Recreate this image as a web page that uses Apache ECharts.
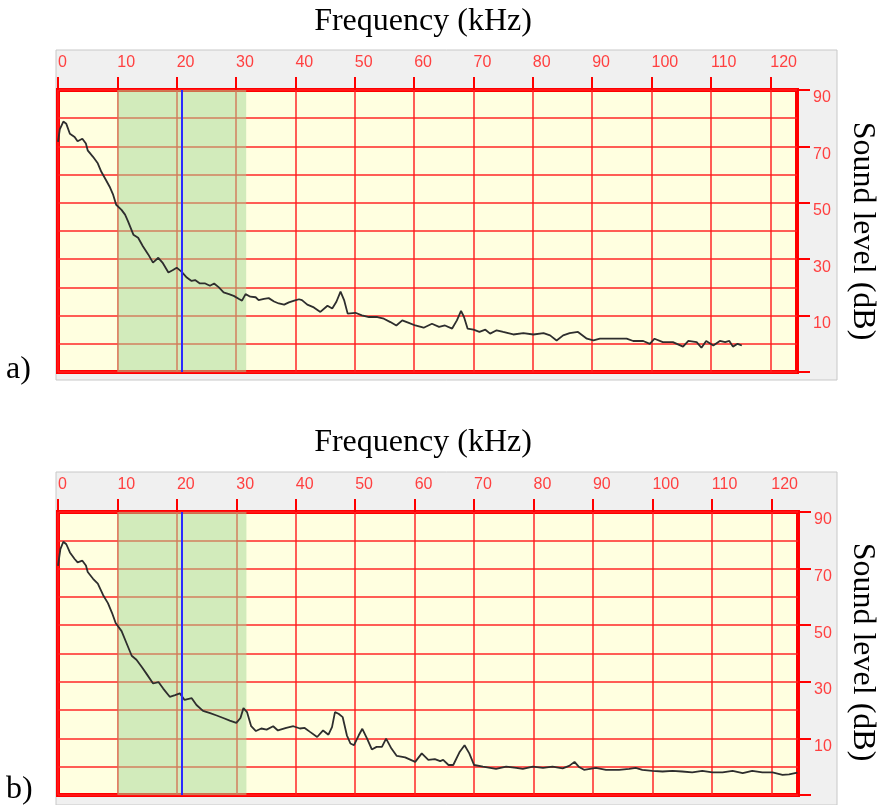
<!DOCTYPE html>
<html>
<head>
<meta charset="utf-8">
<script src="https://cdn.jsdelivr.net/npm/echarts@6/dist/echarts.min.js"></script>
<style>
html,body{margin:0;padding:0;background:#fff;}
#c{width:879px;height:805px;}
</style>
</head>
<body>
<div id="c"></div>
<script>
// ---- data ----
const freqTicks = [0,10,20,30,40,50,60,70,80,90,100,110,120];
const levelTickLabels = [10,30,50,70,90];
const levelTicks = [-10,10,30,50,70,90];
const bandRange = [10, 31.7];
const cursorFreq = 20.9;

const freqA = [0,0.3,0.9,1.4,2.0,2.8,3.3,4.1,4.7,5.0,5.9,6.7,7.3,8.1,8.7,9.3,9.8,10.7,11.3,11.8,12.7,13.5,14.3,15.2,16.0,16.9,17.6,18.6,19.3,20.0,20.8,21.7,22.5,23.1,23.9,24.8,25.6,26.3,27.1,27.9,28.8,29.6,30.5,31.0,31.6,32.4,33.3,33.8,34.7,35.5,36.4,37.2,38.1,38.9,39.8,40.6,41.1,42.0,43.1,44.2,45.4,46.2,46.9,47.6,48.2,48.8,50.1,51.2,52.4,53.8,54.9,56.0,57.0,58.0,59.1,60.2,61.6,63.0,64.2,65.2,66.4,67.2,67.9,68.4,69.0,70.0,71.0,72.0,72.8,73.9,75.0,76.7,78.4,80.1,81.8,82.9,84.0,85.1,86.2,87.6,89.1,90.2,91.3,92.7,94.1,95.8,96.9,98.6,99.7,100.5,101.9,103.6,105.3,106.2,107.6,108.4,109.2,110.4,111.5,112.4,113.1,113.7,114.5,115.2];
const levelA = [71.6,76,78.8,78,74.5,73.3,71.8,72.7,71,68.6,66.3,64,61,58,55.7,52.8,49.3,47.5,45.8,43.4,38.7,37.6,34.6,31.7,28.8,30.5,28.8,25.3,26.1,27,25.6,23.5,22.3,22.6,21.4,21.4,20.6,21.4,20,18.2,17.6,17,15.9,15.3,17.6,16.7,16.5,15.5,15.9,16.2,15,14.3,13.9,14.7,15.3,15.8,15.5,13.9,12.9,11.3,13.5,12.5,14.9,18.5,15.5,10.7,11,10.1,9.5,9.5,8.9,7.7,6.5,8.3,7.4,6.5,5.7,7.1,6,6.5,5.4,8.3,11.7,9.5,5.4,5,4.2,5,3.6,4.8,4.2,3.3,3.8,3.3,3.8,3,1.2,3,3.8,4.2,1.8,1.2,1.8,1.8,1.8,1.8,1,1,0,1.8,0.6,0.6,-1,1,0.6,-1.4,1,-0.6,1,0.6,1,-1,0,-0.6];

const freqB = [0,0.4,0.9,1.4,2.0,2.8,3.3,4.1,4.7,5.0,5.9,6.7,7.6,8.4,9.1,9.7,10.7,11.5,12.4,13.2,14.1,14.9,16.0,16.9,17.7,18.8,19.7,20.5,21.3,22.5,23.3,24.4,25.6,26.7,27.8,28.9,30.0,30.7,31.2,31.8,32.5,33.3,34.2,35.1,36.2,37.0,38.4,39.6,40.7,41.5,42.4,43.6,44.6,45.5,46.1,46.6,47.2,47.9,48.6,49.2,49.8,50.6,51.2,52.0,52.8,53.6,54.5,55.2,56.1,57.0,58.4,60.1,61.2,62.3,63.4,64.3,64.8,65.7,66.5,67.6,68.4,69.2,70.0,71.5,73.7,75.4,77.1,78.2,79.9,81.6,83.2,84.9,86.0,86.9,87.6,88.5,90.5,92.2,94.4,96.1,97.2,98.3,100.0,101.7,103.4,105.0,106.7,108.4,110.1,111.8,113.5,115.2,116.8,118.5,120.2,121.9,123.0,124.4];
const levelB = [71,76.9,79.5,78.6,75.7,73.4,72.2,72.8,71.1,68.8,66.4,64.7,60.6,57.8,54.3,50.8,47.9,43.8,39.2,37.8,35.2,32.8,29.4,29.9,27.6,24.7,25.3,25.9,23.6,24.2,21.8,19.7,18.9,18.1,17.2,16.3,15.5,17.2,20.7,19.3,14.3,12.6,13.5,13.1,14.3,12.8,13.7,14.3,13.5,13.7,12.3,10.5,12.8,11.3,14,19.3,18.7,17.5,11.1,8.2,7.6,11.1,13.4,9.9,6.1,7,7,9.9,6.4,3.8,3.3,1.7,4.7,2.4,2.7,2,2.4,0.6,0.6,5.3,7.6,4.7,0.6,0,-0.8,0,-0.4,-0.8,0,-0.4,0,-0.6,0.3,1.7,0,-1.1,-0.4,-1.1,-1.1,-0.8,-0.4,-1.1,-1.5,-1.7,-1.5,-1.7,-2,-1.5,-2,-2,-1.5,-2.3,-1.5,-2,-2,-2.9,-2.7,-2.1];

// ---- styles ----
const RED = '#ff0000';
const LABEL_RED = '#ff4040';
const GRIDLINE = 'rgba(255,30,30,0.72)';
const PLOT_BG = '#ffffe0';
const SERIF = '"Liberation Serif", "Times New Roman", serif';
const SANS = '"Liberation Sans", Arial, sans-serif';
const TITLE_FONT = '32px ' + SERIF;

const grids = [
  {left: 58, top: 90, width: 739, height: 282},
  {left: 58, top: 512, width: 740, height: 283}
];

function xAxisFor(i) {
  return {
    gridIndex: i, type: 'value', position: 'top', min: 0, max: 124.5, interval: 10,
    axisLine: {show: false, onZero: false},
    axisTick: {show: true, inside: false, length: 13, customValues: freqTicks, lineStyle: {color: RED, width: 2}},
    axisLabel: {customValues: freqTicks, align: 'left', margin: 19, color: LABEL_RED, fontFamily: SANS, fontSize: 16},
    splitLine: {show: true, lineStyle: {color: GRIDLINE, width: 2}}
  };
}
function yAxisFor(i) {
  return {
    gridIndex: i, type: 'value', position: 'right', min: -10, max: 90, interval: 10,
    axisLine: {show: false, onZero: false},
    axisTick: {show: false},
    axisLabel: {customValues: levelTickLabels, margin: 16, verticalAlign: 'top', color: LABEL_RED, fontFamily: SANS, fontSize: 16},
    splitLine: {show: true, lineStyle: {color: GRIDLINE, width: 2}}
  };
}
function yTickAxisFor(i) {
  return {
    gridIndex: i, type: 'value', position: 'right', min: -10, max: 90, interval: 10,
    axisLine: {show: false, onZero: false},
    axisTick: {show: true, inside: false, length: 13, customValues: levelTicks, lineStyle: {color: RED, width: 2}},
    axisLabel: {show: false},
    splitLine: {show: false}
  };
}
function seriesFor(i, fr, lv) {
  return {
    type: 'line', xAxisIndex: i, yAxisIndex: i, showSymbol: false, silent: true,
    data: fr.map((f, k) => [f, lv[k]]),
    lineStyle: {color: '#2e2e2e', width: 1.8},
    markArea: {silent: true, itemStyle: {color: 'rgba(165,215,150,0.5)'},
      data: [[{xAxis: bandRange[0]}, {xAxis: bandRange[1]}]]},
    markLine: {silent: true, symbol: 'none', label: {show: false},
      lineStyle: {color: '#2a2aff', width: 2, type: 'solid'},
      data: [{xAxis: cursorFreq}]}
  };
}

const panels = [[56, 50, 781, 330], [56, 472, 781, 333]];
const graphic = [];
panels.forEach(p => graphic.push({type: 'rect', z: -10, silent: true,
  shape: {x: p[0], y: p[1], width: p[2], height: p[3]},
  style: {fill: '#f0f0f0', stroke: '#c8c8c8', lineWidth: 1}}));
[22, 443].forEach(cy => graphic.push({type: 'text', x: 423, y: cy,
  style: {text: 'Frequency (kHz)', font: TITLE_FONT, fill: '#000', align: 'center', verticalAlign: 'middle'}}));
[231, 652].forEach(cy => graphic.push({type: 'text', x: 862, y: cy, rotation: -Math.PI / 2,
  style: {text: 'Sound level (dB)', font: TITLE_FONT, fill: '#000', align: 'center', verticalAlign: 'middle'}}));
graphic.push({type: 'text', x: 6, y: 370, style: {text: 'a)', font: TITLE_FONT, fill: '#000', verticalAlign: 'middle'}});
graphic.push({type: 'text', x: 6, y: 790, style: {text: 'b)', font: TITLE_FONT, fill: '#000', verticalAlign: 'middle'}});

const chart = echarts.init(document.getElementById('c'), null, {renderer: 'canvas'});
chart.setOption({
  animation: false,
  backgroundColor: '#ffffff',
  grid: grids.map(g => Object.assign({show: true, backgroundColor: PLOT_BG, borderColor: RED, borderWidth: 4}, g)),
  xAxis: [xAxisFor(0), xAxisFor(1)],
  yAxis: [yAxisFor(0), yAxisFor(1), yTickAxisFor(0), yTickAxisFor(1)],
  series: [seriesFor(0, freqA, levelA), seriesFor(1, freqB, levelB)],
  graphic: graphic
});
</script>
</body>
</html>
